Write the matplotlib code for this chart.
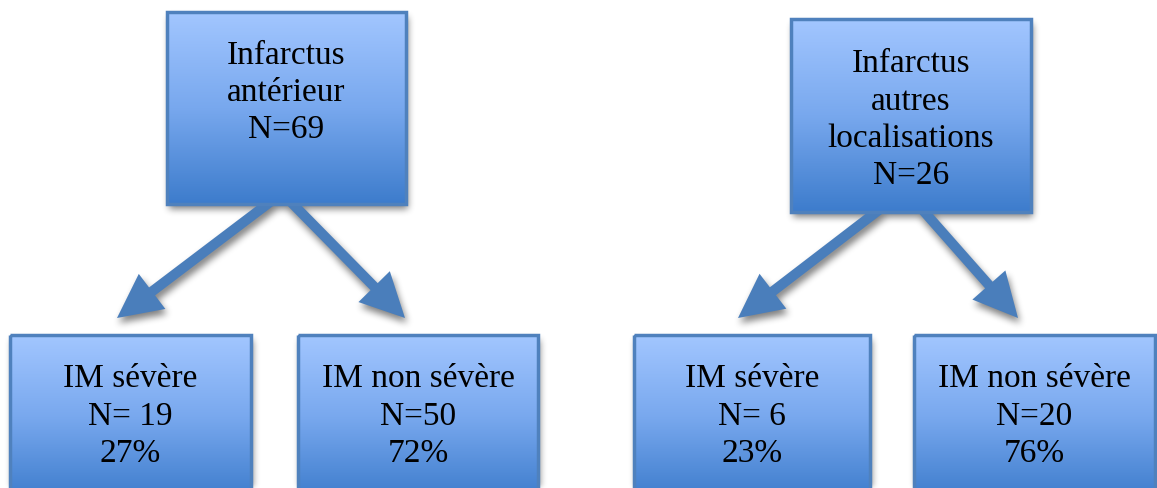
import numpy as np
import matplotlib
matplotlib.use('Agg')
from matplotlib import pyplot as plt
from matplotlib.patches import Rectangle, FancyArrow
from matplotlib.path import Path
from matplotlib.colors import to_rgb

# -----------------------------
# data
# -----------------------------
group_names = [["Infarctus", "antérieur"], ["Infarctus", "autres", "localisations"]]
group_n = [69, 26]
sub_names = ["IM sévère", "IM non sévère", "IM sévère", "IM non sévère"]
sub_n_labels = ["N= 19", "N=50", "N= 6", "N=20"]
sub_pct = [27, 72, 23, 76]

# -----------------------------
# layout (pixels, y downwards)
# -----------------------------
W, H = 1157, 488
top_boxes = [(167, 12, 406, 204), (791, 19, 1031, 212)]
top_baselines = [[64, 101, 138], [72, 110, 147, 184]]
bot_boxes = [(10, 335, 251, 500), (298, 335, 538, 500),
             (634, 335, 870, 500), (914, 335, 1155, 500)]
bot_baselines = [387, 425, 462]
arrow_start = [(282, 193), (905, 190)]
arrow_tips = [[(117, 318), (405, 318)], [(738, 318), (1018, 318)]]

c_top = np.array(to_rgb('#A2C6FF'))
c_mid = np.array(to_rgb('#78A8EE'))
c_bot = np.array(to_rgb('#3D7CCC'))
edge = '#4F81BD'
arrow_col = '#4A7EBB'
fontsize = 24
family = ['Liberation Serif', 'DejaVu Serif']

fig = plt.figure(figsize=(W / 100, H / 100), dpi=100)
ax = fig.add_axes([0, 0, 1, 1])
ax.set_xlim(0, W)
ax.set_ylim(H, 0)
ax.axis('off')

# arrows
arrows = []
for (sx, sy), tips in zip(arrow_start, arrow_tips):
    for tx, ty in tips:
        a = FancyArrow(sx, sy, tx - sx, ty - sy, width=10, head_width=44,
                       head_length=44, length_includes_head=True,
                       color=arrow_col, lw=0, zorder=2)
        ax.add_patch(a)
        arrows.append(a)

all_boxes = top_boxes + bot_boxes

# soft shadow under boxes and arrows
yy, xx = np.mgrid[0:H, 0:W] + 0.5
mask = np.zeros((H, W))
off_x, off_y = 2, 5
for x0, y0, x1, y1 in all_boxes:
    mask[(xx > x0 + off_x) & (xx < x1 + off_x) & (yy > y0 + off_y) & (yy < y1 + off_y)] = 1
pts = np.column_stack([xx.ravel() - off_x, yy.ravel() - off_y])
for a in arrows:
    inside = Path(a.get_xy()).contains_points(pts).reshape(H, W)
    mask[inside] = 1


def box_blur(arr, r, axis):
    pad = [(0, 0), (0, 0)]
    pad[axis] = (r + 1, r)
    p = np.pad(arr, pad, mode='constant')
    c = np.cumsum(p, axis=axis)
    n = arr.shape[axis]
    if axis == 0:
        return (c[2 * r + 1:2 * r + 1 + n] - c[:n]) / (2 * r + 1)
    return (c[:, 2 * r + 1:2 * r + 1 + n] - c[:, :n]) / (2 * r + 1)


for _ in range(3):
    mask = box_blur(mask, 3, 0)
    mask = box_blur(mask, 3, 1)
shadow = np.zeros((H, W, 4))
shadow[..., 3] = mask * 0.5
ax.imshow(shadow, extent=(0, W, H, 0), origin='upper', zorder=1,
          interpolation='bilinear')


def grad_box(x0, y0, x1, y1):
    n = 200
    t = np.linspace(0, 1, n)[:, None]
    # two-segment vertical gradient, light on top
    g = np.where(t < 0.5, c_top + (c_mid - c_top) * (t / 0.5),
                 c_mid + (c_bot - c_mid) * ((t - 0.5) / 0.5))
    img = g[:, None, :]
    ax.imshow(img, extent=(x0, x1, y1, y0), origin='upper', aspect='auto',
              zorder=3, interpolation='bilinear')
    ax.add_patch(Rectangle((x0, y0), x1 - x0, y1 - y0, fill=False,
                           edgecolor=edge, lw=2.5, zorder=4))


for (x0, y0, x1, y1), names, n, bl in zip(top_boxes, group_names, group_n, top_baselines):
    grad_box(x0, y0, x1, y1)
    lines = names + ["N=%d" % n]
    for txt, by in zip(lines, bl):
        ax.text((x0 + x1) / 2, by, txt, ha='center', va='baseline',
                fontsize=fontsize, family=family, color='black', zorder=5)

for (x0, y0, x1, y1), name, nl, p in zip(bot_boxes, sub_names, sub_n_labels, sub_pct):
    grad_box(x0, y0, x1, y1)
    lines = [name, nl, "%d%%" % p]
    for txt, by in zip(lines, bot_baselines):
        ax.text((x0 + x1) / 2, by, txt, ha='center', va='baseline',
                fontsize=fontsize, family=family, color='black', zorder=5)

ax.set_xlim(0, W)
ax.set_ylim(H, 0)
plt.savefig('out.png', dpi=100)
